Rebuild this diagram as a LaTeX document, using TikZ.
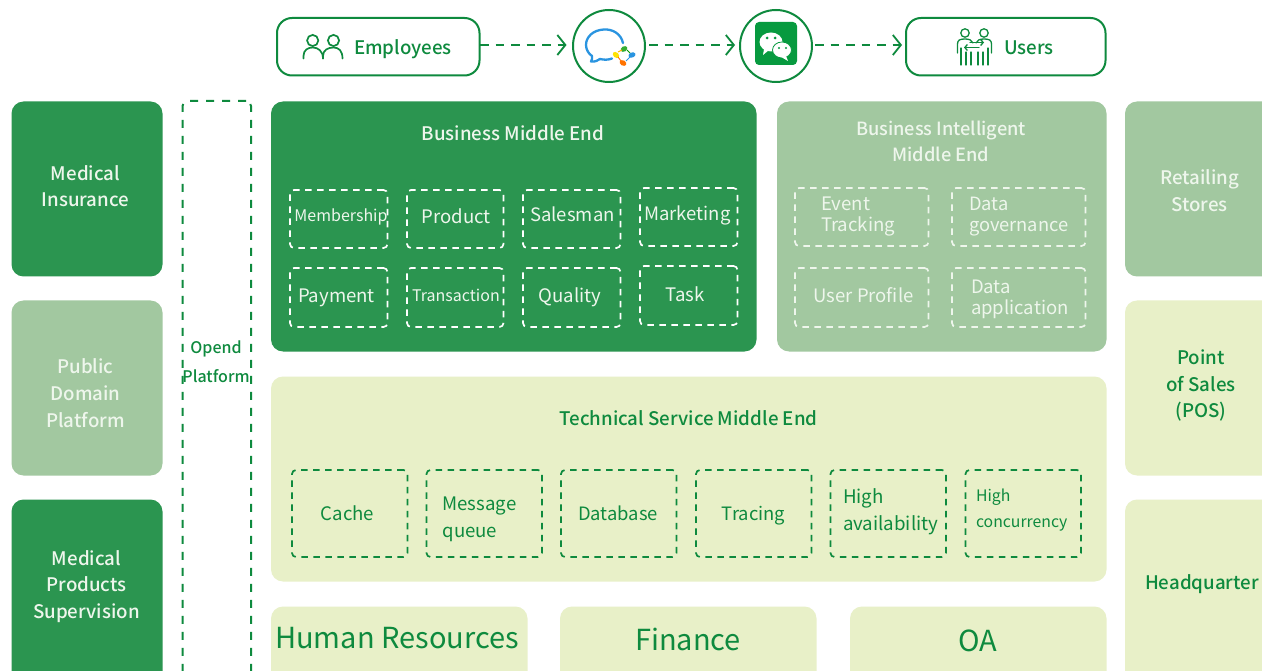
\documentclass[tikz,border=0pt]{standalone}
\usepackage{fontspec}
\setmainfont{Noto Sans CJK SC}[BoldFont={Noto Sans CJK SC Medium}]
\usetikzlibrary{arrows.meta}
\definecolor{gdark}{HTML}{2B9550}
\definecolor{gmid}{HTML}{A2C8A0}
\definecolor{glight}{HTML}{E8F0C8}
\definecolor{gline}{HTML}{0E8A3E}
\definecolor{wsoft}{HTML}{EEF6EC}
\definecolor{wecom}{HTML}{2A94E0}
\definecolor{wechat}{HTML}{079A3F}
\newcommand{\rb}[6][]{\node[panel,#1,minimum width={(#5-#3)*1pt},minimum height={(#6-#4)*1pt}] (#2) at ({(#3+#5)/2},{(#4+#6)/2}) {};}
\newcommand{\lab}[6][]{\node[lbl,font=\fontsize{#5}{#6}\selectfont,#1] (#2) at (#3,#4)}
\newcommand{\blab}[6][]{\node[lbl,font=\fontsize{#5}{#6}\selectfont\bfseries,#1] (#2) at (#3,#4)}
\tikzset{
  panel/.style={rectangle,rounded corners=12pt,inner sep=0pt,outer sep=0pt},
  fdark/.style={fill=gdark},fmid/.style={fill=gmid},flight/.style={fill=glight},
  dashw/.style={draw=white,line width=1.7pt,dash pattern=on 6.5pt off 5.5pt,rounded corners=4pt},
  dashm/.style={draw=wsoft,line width=1.7pt,dash pattern=on 6.5pt off 5.5pt,rounded corners=4pt},
  dashg/.style={draw=gline,line width=1.7pt,dash pattern=on 6.5pt off 5.5pt,rounded corners=4pt},
  dashopen/.style={draw=gline,line width=2pt,dash pattern=on 8pt off 8pt,rounded corners=5pt},
  lbl/.style={align=center,inner sep=0pt,outer sep=0pt},
  tw/.style={text=wsoft},tg/.style={text=gline},
  topbox/.style={draw=gline,line width=2pt,fill=white,rounded corners=15pt},
  roundnode/.style={circle,draw=gline,line width=2pt,fill=white,minimum size=72pt,inner sep=0pt,outer sep=0pt},
  flow/.style={draw=gline,line width=2pt,dash pattern=on 8.5pt off 7pt,-{Straight Barb[length=8pt,width=20pt,line width=1.8pt]}},
  ic/.style={draw=gline,line width=1.7pt,line cap=round},
  icthin/.style={draw=gline,line width=1.3pt,line cap=round}
}
\begin{document}
\begin{tikzpicture}[x=1pt,y=-1pt]
\fill[white] (0,0) rectangle (1262,671);
\clip (0,0) rectangle (1262,671);
% left column
\rb[fdark]{lA}{11.5}{101.5}{162.5}{276.5}
\rb[fmid]{lB}{11.5}{300.5}{162.5}{475.5}
\rb[fdark]{lC}{11.5}{499.5}{162.5}{690}
\blab[tw]{lAt}{85.5}{186}{18.7}{26.5}{Medical\\Insurance};
\blab[tw]{lBt}{85.5}{393}{18.7}{27}{Public\\Domain\\Platform};
\blab[tw]{lCt}{86.5}{586.5}{18.7}{26.5}{Medical\\Products\\Supervision};
% open platform
\rb[dashopen]{open}{182.5}{101}{251}{700}
\blab[tg]{opent}{216}{361.5}{16}{28.5}{Opend\\Platform};
% business
\rb[fdark]{biz}{271}{101.5}{756.5}{351.5}
\blab[tw]{bizt}{513}{133}{18.7}{24}{Business Middle End};
\rb[dashw]{b1}{290}{190}{387.5}{248}
\rb[dashw]{b2}{407}{190}{503.5}{248}
\rb[dashw]{b3}{523}{190}{620.5}{248}
\rb[dashw]{b4}{640}{188}{737.5}{246}
\rb[dashw]{b5}{290}{268}{387.5}{327}
\rb[dashw]{b6}{407}{268}{503.5}{327}
\rb[dashw]{b7}{523}{268}{620.5}{327}
\rb[dashw]{b8}{640}{266}{737.5}{325}
\lab[tw]{b1t}{341}{217}{16}{20}{Membership};
\lab[tw]{b2t}{456}{216}{18.6}{24}{Product};
\lab[tw]{b3t}{572.5}{214}{18.5}{24}{Salesman};
\lab[tw]{b4t}{687.5}{215}{18.5}{24}{Marketing};
\lab[tw]{b5t}{336.5}{298}{18.6}{24}{Payment};
\lab[tw]{b6t}{456}{295.5}{16}{20}{Transaction};
\lab[tw]{b7t}{570}{297}{18.6}{24}{Quality};
\lab[tw]{b8t}{685}{294}{18.6}{24}{Task};
% BI
\rb[fmid]{bi}{777}{101.5}{1106.5}{351.5}
\blab[tw]{bit}{941}{141}{18.2}{26}{Business Intelligent\\Middle End};
\rb[dashm]{i1}{795}{188}{928.5}{246}
\rb[dashm]{i2}{952}{188}{1085.5}{246}
\rb[dashm]{i3}{795}{268}{928.5}{327}
\rb[dashm]{i4}{952}{268}{1085.5}{327}
\lab[tw,anchor=west,align=left]{i1t}{821}{216.5}{18.6}{21}{Event\\Tracking};
\lab[tw,anchor=west,align=left]{i2t}{969}{217}{18.3}{21}{Data\\governance};
\lab[tw]{i3t}{863.5}{295}{18.5}{24}{User Profile};
\lab[tw,anchor=west,align=left]{i4t}{971}{299}{18.5}{21}{Data\\application};
% technical
\rb[flight]{tech}{271}{376.5}{1106.5}{581.5}
\blab[tg]{techt}{688.5}{418}{18.7}{24}{Technical Service Middle End};
\rb[dashg]{t1}{292}{470}{407.5}{557}
\rb[dashg]{t2}{426.5}{470}{542}{557}
\rb[dashg]{t3}{561}{470}{676.5}{557}
\rb[dashg]{t4}{696}{470}{811.5}{557}
\rb[dashg]{t5}{830.5}{470}{946}{557}
\rb[dashg]{t6}{965.5}{470}{1081}{557}
\lab[tg]{t1t}{347.5}{513}{18.6}{24}{Cache};
\lab[tg,anchor=west,align=left]{t2t}{442.5}{519}{18.6}{27}{Message\\queue};
\lab[tg]{t3t}{618}{513}{18.4}{24}{Database};
\lab[tg]{t4t}{753.5}{516}{18.4}{24}{Tracing};
\lab[tg,anchor=west,align=left]{t5t}{843}{512}{18.7}{27}{High\\availability};
\lab[tg,anchor=west,align=left]{t6t}{976}{510}{15.8}{26}{High\\concurrency};
% bottom
\rb[flight]{hr}{271}{606.5}{527.5}{690}
\rb[flight]{fin}{560}{606.5}{816.5}{690}
\rb[flight]{oa}{850}{606.5}{1106.5}{690}
\lab[tg]{hrt}{397}{638}{29}{34}{Human Resources};
\lab[tg]{fint}{688}{639}{29}{34}{Finance};
\lab[tg]{oat}{977.5}{641}{29}{34}{OA};
% right
\rb[fmid]{rA}{1125}{101.5}{1290}{276.5}
\rb[flight]{rB}{1125}{300.5}{1290}{475.5}
\rb[flight]{rC}{1125}{499.5}{1290}{690}
\blab[tw]{rAt}{1199.5}{191}{18.7}{27}{Retailing\\Stores};
\blab[tg]{rBt}{1201}{385.5}{18.7}{26.5}{Point\\of Sales\\(POS)};
\blab[tg]{rCt}{1202}{584}{18.7}{24}{Headquarter};
% top row
\rb[topbox]{emp}{277}{18}{479.5}{75.5}
\rb[topbox]{usr}{906}{18}{1105.5}{75.5}
\node[roundnode] (c1) at (609,46) {};
\node[roundnode] (c2) at (776,46) {};
\coordinate (a1) at (480,45); \coordinate (a2) at (566.5,45);
\coordinate (a3) at (649,45); \coordinate (a4) at (735,45);
\coordinate (a5) at (815,45); \coordinate (a6) at (902,45);
\draw[flow] (a1) -- (a2);
\draw[flow] (a3) -- (a4);
\draw[flow] (a5) -- (a6);
\blab[tg]{empt}{403}{49}{18.7}{24}{Employees};
\blab[tg]{usrt}{1029}{48}{18.7}{24}{Users};
% employees icon
\draw[ic] (312.7,40.5) circle (5.6);
\draw[ic] (333.5,40.5) circle (5.6);
\draw[ic] (303.5,58.5) -- (303.5,56) .. controls (303.5,50) and (308,47.5) .. (312.7,47.5) .. controls (318,47.5) and (323,51) .. (323,58.5);
\draw[ic] (323,58.5) -- (323,56) .. controls (323,50) and (328,47.5) .. (333.5,47.5) .. controls (339,47.5) and (342.5,51) .. (342.5,58.5);
% users icon
\draw[icthin] (965,33) circle (4.2);
\draw[icthin] (984,33) circle (4.2);
\draw[icthin] (957.5,53) -- (957.5,44) .. controls (957.5,40) and (960,39) .. (965,39) .. controls (969,39) and (972,40) .. (973,43);
\draw[icthin] (976,43) .. controls (977,40) and (980,39) .. (984,39) .. controls (989,39) and (991.5,40) .. (991.5,44) -- (991.5,53);
\draw[icthin] (961,48) -- (961,65) (966,52) -- (966,65) (971,52) -- (971,65);
\draw[icthin] (978,52) -- (978,65) (983,52) -- (983,65) (988,48) -- (988,65);
\draw[icthin,-{Straight Barb[length=2.5pt,width=6pt]}] (970,42.5) -- (984,42.5);
\draw[icthin,-{Straight Barb[length=2.5pt,width=6pt]}] (979,47.5) -- (964,47.5);
% wecom icon
\draw[wecom,line width=2.3pt,line cap=round,line join=round] (623,43) .. controls (621,34) and (613,29) .. (604,29.5) .. controls (593,30) and (586,37) .. (586,45) .. controls (586,50) and (589,54) .. (592,56) .. controls (592.5,58) and (592,60) .. (591,61.5) .. controls (595,62) and (598,60.5) .. (600,59) .. controls (604,60) and (608,60) .. (612,58.5);
\fill[green!60!black!80!white,rotate around={30:(624,49)}] (624,49) ellipse (3.6 and 2.6);
\fill[yellow!85!orange,rotate around={-40:(616,55)}] (616,55) ellipse (3.6 and 2.6);
\fill[wecom,rotate around={20:(632,55)}] (632,55) ellipse (3.6 and 2.6);
\fill[orange!90!red,rotate around={-30:(623,63)}] (623,63) ellipse (3.6 and 2.6);
\draw[orange!60!yellow,line width=.9pt] (618,52) -- (622,50);
\draw[orange!90!red,line width=.9pt] (618,57) -- (621,61);
\draw[green!60!black,line width=.9pt] (627,50) -- (630,53);
\draw[wecom,line width=.9pt] (630,57) -- (626,61);
% wechat icon
\fill[wechat,rounded corners=4pt] (755,22) rectangle (797,65);
\fill[white] (771,42) ellipse (11.5 and 9.5);
\fill[white] (764,49) -- (763,55) -- (769,50) -- cycle;
\draw[wechat,fill=white,line width=.8pt] (782,50) ellipse (9.5 and 8);
\fill[white] (786,56) -- (788,61) -- (782,57.5) -- cycle;
\fill[wechat] (767,38) circle (1.5) (775,38) circle (1.5);
\fill[wechat] (779,48) circle (1.2) (786,48) circle (1.2);
\end{tikzpicture}
\end{document}
